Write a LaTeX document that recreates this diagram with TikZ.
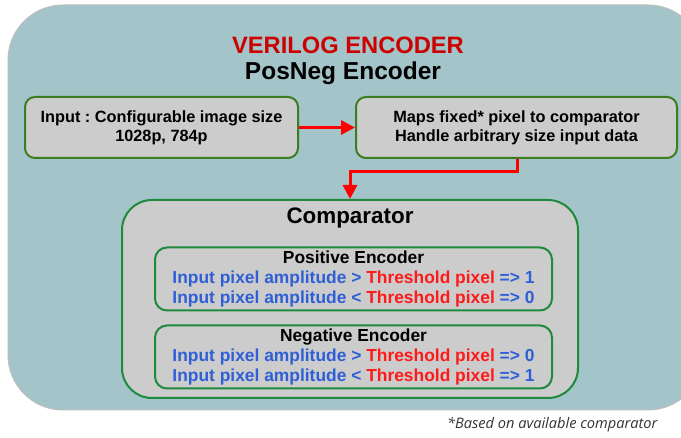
\documentclass[tikz,border=0pt]{standalone}
\usepackage{fontspec}
\setmainfont{Liberation Sans}
\newfontfamily\notefont{Open Sans}
\usetikzlibrary{arrows.meta}
\definecolor{panelteal}{HTML}{A3C4C9}
\definecolor{boxgray}{HTML}{CCCCCC}
\definecolor{olivegreen}{HTML}{3C7D22}
\definecolor{compgreen}{HTML}{1F8A3E}
\definecolor{titlered}{HTML}{CC0000}
\definecolor{condred}{HTML}{FF1A1A}
\definecolor{condblue}{HTML}{2F5FD6}
\frenchspacing

\begin{document}
\begin{tikzpicture}[
    x=1pt, y=-1pt,
    stage/.style={rectangle, rounded corners=10pt, draw=olivegreen, line width=2pt,
        fill=boxgray, align=center, font=\fontsize{16.3}{19}\selectfont\bfseries},
    encbox/.style={rectangle, rounded corners=12pt, draw=compgreen, line width=2pt,
        minimum width=397pt, minimum height=63pt, inner sep=0pt, align=center,
        font=\fontsize{17.4}{20}\selectfont\bfseries},
    flow/.style={draw=red, line width=3pt, -{Triangle[length=14pt,width=14pt]}}
]
    \useasboundingbox (0,0) rectangle (681,438);
    \clip (0,0) rectangle (681,438);

    % Outer panel
    \node[rectangle, rounded corners=55pt, draw=gray!50, line width=1pt, fill=panelteal,
        minimum width=695pt, minimum height=405pt] (panel) at (355.5,207.5) {};

    % Titles
    \node[text=titlered, font=\fontsize{23.7}{27}\selectfont\bfseries] (title) at (348,45) {VERILOG ENCODER};
    \node[font=\fontsize{24.5}{28}\selectfont\bfseries] (subtitle) at (343,73) {PosNeg Encoder};

    % Input stages
    \node[stage, minimum width=273pt, minimum height=61pt] (input) at (161.5,127.5)
        {Input : Configurable image size\\1028p, 784p};
    \node[stage, minimum width=321pt, minimum height=61pt] (maps) at (516.5,127.5)
        {Maps fixed* pixel to comparator\\Handle arbitrary size input data};

    % Comparator
    \node[rectangle, rounded corners=30pt, draw=compgreen, line width=2pt, fill=boxgray,
        minimum width=456pt, minimum height=198pt] (comp) at (350,299) {};
    \node[font=\fontsize{22.4}{26}\selectfont\bfseries] (comptitle) at (350,218) {Comparator};

    \node[encbox] (pos) at (353.5,279)
        {Positive Encoder\\
         \textcolor{condblue}{Input pixel amplitude >} \textcolor{condred}{Threshold pixel} \textcolor{condblue}{=> 1}\\
         \textcolor{condblue}{Input pixel amplitude <} \textcolor{condred}{Threshold pixel} \textcolor{condblue}{=> 0}};
    \node[encbox] (neg) at (353.5,357)
        {Negative Encoder\\
         \textcolor{condblue}{Input pixel amplitude >} \textcolor{condred}{Threshold pixel} \textcolor{condblue}{=> 0}\\
         \textcolor{condblue}{Input pixel amplitude <} \textcolor{condred}{Threshold pixel} \textcolor{condblue}{=> 1}};

    % Connections
    \coordinate (bend) at (517,172);
    \draw[flow] (input) -- (maps);
    \draw[flow] (maps.south -| bend) -- (bend) -| (comp.north);

    % Footnote
    \node[anchor=east, text=black!80, font=\notefont\itshape\fontsize{14.6}{17}\selectfont] (note) at (661,425)
        {*Based on available comparator};
\end{tikzpicture}
\end{document}
